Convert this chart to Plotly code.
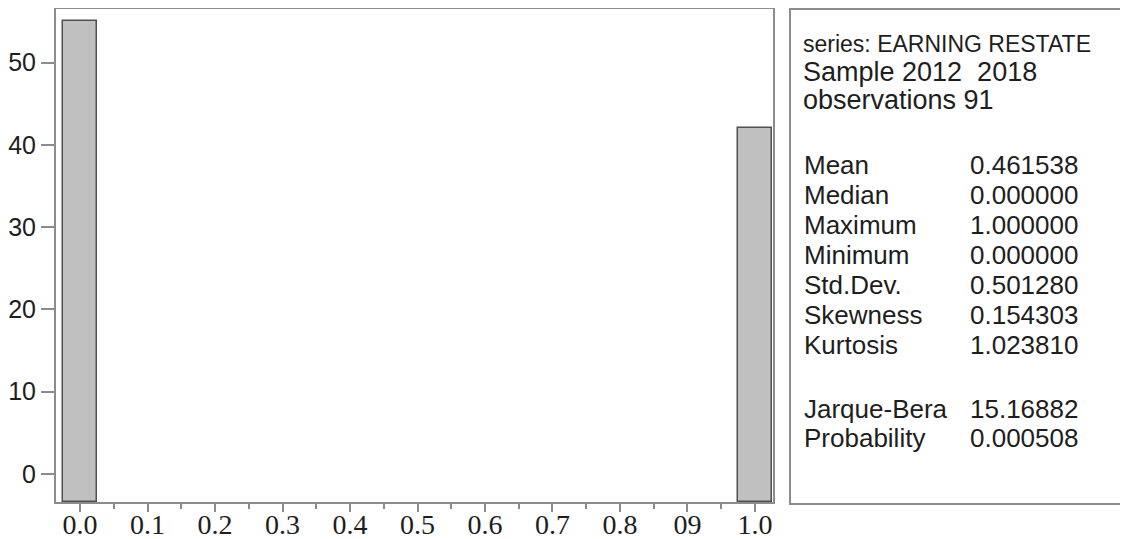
import plotly.graph_objects as go

# ---- data ----
bin_centers = [0.0, 1.0]
bin_counts = [55, 42]
bin_width = 0.05

x_tick_values = [0.0, 0.1, 0.2, 0.3, 0.4, 0.5, 0.6, 0.7, 0.8, 0.9, 1.0]
x_tick_labels = ["0.0", "0.1", "0.2", "0.3", "0.4", "0.5", "0.6", "0.7", "0.8", "09", "1.0"]
y_tick_values = [0, 10, 20, 30, 40, 50]

header_lines = ["series: EARNING RESTATE", "Sample 2012  2018", "observations 91"]
stat_names = ["Mean", "Median", "Maximum", "Minimum", "Std.Dev.", "Skewness", "Kurtosis"]
stat_values = ["0.461538", "0.000000", "1.000000", "0.000000", "0.501280", "0.154303", "1.023810"]
test_names = ["Jarque-Bera", "Probability"]
test_values = ["15.16882", "0.000508"]

# ---- layout constants (window pixels) ----
OFF = 8                                # page body margin
WIN_W, WIN_H = 1128, 539
FIG_W, FIG_H = WIN_W - OFF, WIN_H - OFF
L, R, T, B = 56, 773, 9, 502           # plot area in window pixels
PW, PH = R - L, B - T
Y_FLOOR = -3.4
Y_TOP = 56.5
X_MIN, X_MAX = -0.0356, 1.0267

def xp(px):
    return (px - L) / PW

def yp(py):
    return (B - py) / PH

TEXT_COLOR = "#1e1e1e"
FRAME_COLOR = "#8c8c8c"
SANS = "Liberation Sans, Arial, sans-serif"
SERIF = "Liberation Serif, Times New Roman, serif"

fig = go.Figure()
fig.add_trace(go.Bar(
    x=bin_centers,
    y=[c - Y_FLOOR for c in bin_counts],
    base=Y_FLOOR,
    width=bin_width,
    marker=dict(color="#c0c0c0", line=dict(color="#505050", width=1.5)),
    customdata=bin_counts,
    hovertemplate="%{x}: %{customdata}<extra></extra>",
))

fig.update_xaxes(
    range=[X_MIN, X_MAX],
    tickmode="array", tickvals=x_tick_values, ticktext=x_tick_labels,
    ticks="outside", ticklen=8, tickwidth=1.5, tickcolor=FRAME_COLOR,
    minor=dict(dtick=0.05, tick0=0, ticks="outside", ticklen=5, tickwidth=1.5, tickcolor=FRAME_COLOR),
    showline=True, mirror=True, linecolor=FRAME_COLOR, linewidth=2,
    showgrid=False, zeroline=False,
    ticklabelstandoff=-12,
    tickfont=dict(family=SERIF, size=28, color=TEXT_COLOR),
)
fig.update_yaxes(
    range=[Y_FLOOR, Y_TOP],
    tickmode="array", tickvals=y_tick_values,
    ticks="outside", ticklen=13, tickwidth=1.5, tickcolor=FRAME_COLOR,
    showline=True, mirror=True, linecolor=FRAME_COLOR, linewidth=2,
    showgrid=False, zeroline=False,
    tickfont=dict(family=SANS, size=25, color=TEXT_COLOR),
)

# statistics box
fig.add_shape(type="rect", xref="paper", yref="paper",
              x0=xp(790), x1=xp(1145), y0=yp(504), y1=yp(9),
              line=dict(color=FRAME_COLOR, width=2), fillcolor="rgba(0,0,0,0)")

def add_text(txt, px, py, size):
    fig.add_annotation(text=txt, xref="paper", yref="paper", x=xp(px), y=yp(py),
                       xanchor="left", yanchor="middle", showarrow=False,
                       font=dict(family=SANS, size=size, color=TEXT_COLOR))

header_y = [44, 72, 100]
header_size = [23, 27, 27]
for txt, py, sz in zip(header_lines, header_y, header_size):
    add_text(txt, 801, py, sz)

for i, (name, val) in enumerate(zip(stat_names, stat_values)):
    py = 165 + 30 * i
    add_text(name, 802, py, 26)
    add_text(val, 968, py, 26)

for i, (name, val) in enumerate(zip(test_names, test_values)):
    py = 409 + 29 * i
    add_text(name, 802, py, 26)
    add_text(val, 968, py, 26)

fig.update_layout(
    width=FIG_W, height=FIG_H,
    margin=dict(l=L - OFF, r=WIN_W - R, t=T - OFF, b=WIN_H - B, autoexpand=False),
    plot_bgcolor="white", paper_bgcolor="white",
    showlegend=False, bargap=0,
)

fig.write_html("out.html")
